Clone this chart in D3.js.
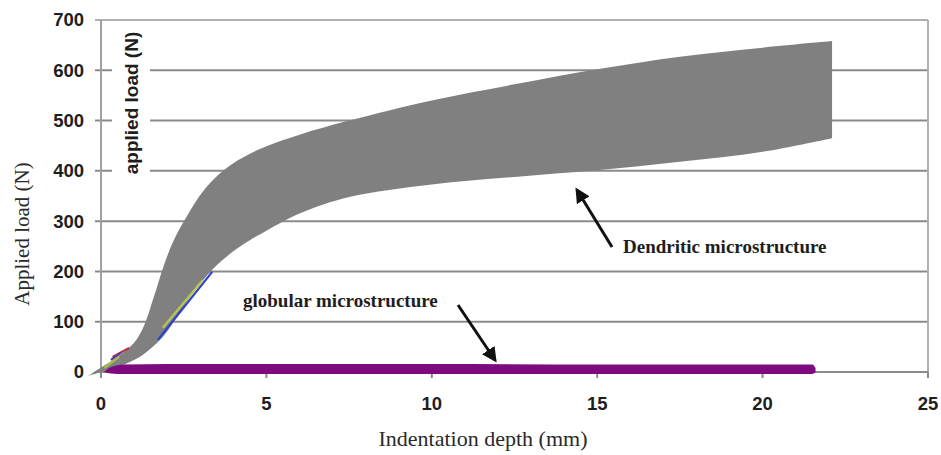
<!DOCTYPE html>
<html><head><meta charset="utf-8">
<script src="https://cdn.jsdelivr.net/npm/d3@7"></script>
<style>body{margin:0;background:#fff}svg{display:block}</style>
</head><body>
<svg id="c" width="941" height="455"></svg>
<script>
// ---- data ----
const xTicks = [0, 5, 10, 15, 20, 25];
const yTicks = [0, 100, 200, 300, 400, 500, 600, 700];
// dendritic microstructure band (grey envelope)
const dendX     = [-0.4, 0, 0.5, 1.0, 1.3, 1.6, 1.9, 2.2, 2.6, 3.0, 3.4, 4.0, 4.5, 5.0, 6.0, 7.5, 10, 12.5, 15, 17.5, 20, 22.1];
const dendUpper = [-8, 9, 30, 58, 92, 150, 212, 262, 310, 352, 383, 415, 434, 449, 472, 500, 540, 572, 602, 627, 645, 658];
const dendLower = [-8, 0, 10, 24, 36, 52, 72, 100, 140, 176, 206, 240, 262, 281, 315, 348, 373, 388, 401, 418, 438, 465];
// globular microstructure band (purple)
const globX     = [0.1, 0.3, 0.7, 2, 5, 10, 15, 20, 21.5, 21.6];
const globUpper = [1, 10, 15, 16, 16, 16, 15, 15, 15, 8];
const globLower = [0, -3, -4, -4, -4, -4, -4, -4, -4, 0];
// small individual test curves visible on the band
const blueX = [1.72, 3.36], blueY = [64, 199];
const ygX = [1.87, 3.08], ygY = [88, 183];
const greenX = [0.1, 0.55], greenY = [8, 30];
const redX = [0.35, 0.85], redY = [30, 48];
const violetX = [0.3, 0.6], violetY = [24, 38];

const svg = d3.select('#c');
const x = d3.scaleLinear().domain([0, 25]).range([101, 928]);
const y = d3.scaleLinear().domain([0, 700]).range([372, 20]);

// gridlines (including top border)
svg.append('g').selectAll('line').data(yTicks.filter(d => d > 0)).join('line')
  .attr('x1', 95).attr('x2', x(25)).attr('y1', d => y(d)).attr('y2', d => y(d))
  .attr('stroke', d => d === 700 ? '#b0b0b0' : '#8a8a8a').attr('stroke-width', 2);
svg.append('line').attr('x1', 95).attr('x2', x(0)).attr('y1', y(0)).attr('y2', y(0)).attr('stroke', '#8a8a8a').attr('stroke-width', 2);
svg.append('line').attr('x1', x(25)).attr('x2', x(25)).attr('y1', y(700)).attr('y2', y(0) + 6).attr('stroke', '#b0b0b0').attr('stroke-width', 2);
svg.append('line').attr('x1', x(0)).attr('x2', x(0)).attr('y1', y(700)).attr('y2', y(0)).attr('stroke', '#a0a0a0').attr('stroke-width', 2);
svg.append('line').attr('x1', x(0)).attr('x2', x(25)).attr('y1', y(0)).attr('y2', y(0)).attr('stroke', '#8a8a8a').attr('stroke-width', 2);
svg.append('g').selectAll('line').data(xTicks).join('line')
  .attr('x1', d => x(d)).attr('x2', d => x(d)).attr('y1', y(0)).attr('y2', y(0) + 6)
  .attr('stroke', '#8a8a8a').attr('stroke-width', 2);

// inner label "applied load (N)" with white background
svg.append('rect').attr('x', 112).attr('y', 27).attr('width', 38).attr('height', 152).attr('fill', '#fff');
svg.append('text').attr('transform', 'translate(138,103) rotate(-90)')
  .attr('text-anchor', 'middle').attr('font-family', 'Liberation Sans, Arial, sans-serif')
  .attr('font-weight', 'bold').attr('font-size', 19).attr('fill', '#1e1e1e').text('applied load (N)');

// dendritic band
const curve = d3.curveCatmullRom.alpha(0.5);
svg.append('path')
  .attr('d', d3.area().curve(curve).x((d, i) => x(dendX[i])).y0((d, i) => y(dendLower[i])).y1((d, i) => y(dendUpper[i]))(dendX))
  .attr('fill', '#808080');

// small test curves
const seg = (xs, ys, col) => svg.append('path')
  .attr('d', d3.line().x((d, i) => x(xs[i])).y((d, i) => y(ys[i]))(xs))
  .attr('stroke', col).attr('stroke-width', 2.2).attr('fill', 'none');
seg(blueX, blueY, '#2b3fd0');
seg(ygX, ygY, '#b8c84a');
seg(greenX, greenY, '#a8c040');
seg(redX, redY, '#b0304a');
seg(violetX, violetY, '#5a3aa0');

// globular band
svg.append('path')
  .attr('d', d3.area().curve(d3.curveMonotoneX).x((d, i) => x(globX[i])).y0((d, i) => y(globLower[i])).y1((d, i) => y(globUpper[i]))(globX))
  .attr('fill', '#7e0a80');

// tick labels
svg.append('g').selectAll('text').data(yTicks).join('text')
  .attr('x', 84).attr('y', d => y(d)).attr('dy', '0.35em').attr('text-anchor', 'end')
  .attr('font-family', 'Liberation Sans, Arial, sans-serif').attr('font-weight', 'bold')
  .attr('font-size', 18.5).attr('fill', '#1e1e1e').text(d => d);
svg.append('g').selectAll('text').data(xTicks).join('text')
  .attr('x', d => x(d)).attr('y', 404).attr('dy', '0.35em').attr('text-anchor', 'middle')
  .attr('font-family', 'Liberation Sans, Arial, sans-serif').attr('font-weight', 'bold')
  .attr('font-size', 18.5).attr('fill', '#1e1e1e').text(d => d);

// axis titles
svg.append('text').attr('transform', 'translate(29,234) rotate(-90)').attr('text-anchor', 'middle')
  .attr('font-family', 'Liberation Serif, Times New Roman, serif').attr('font-size', 21)
  .attr('fill', '#2a2a2a').text('Applied load (N)');
svg.append('text').attr('x', 483).attr('y', 446).attr('text-anchor', 'middle')
  .attr('font-family', 'Liberation Serif, Times New Roman, serif').attr('font-size', 22)
  .attr('fill', '#2a2a2a').text('Indentation depth (mm)');

// annotations
svg.append('defs').append('marker').attr('id', 'ah').attr('viewBox', '0 0 10 10')
  .attr('refX', 8).attr('refY', 5).attr('markerWidth', 5).attr('markerHeight', 5)
  .attr('orient', 'auto').append('path').attr('d', 'M0,0L10,5L0,10z').attr('fill', '#111');
svg.append('text').attr('x', 623).attr('y', 253)
  .attr('font-family', 'Liberation Serif, Times New Roman, serif').attr('font-weight', 'bold')
  .attr('font-size', 19).attr('fill', '#1e1e1e').text('Dendritic microstructure');
svg.append('line').attr('x1', 612).attr('y1', 247).attr('x2', 577).attr('y2', 190)
  .attr('stroke', '#111').attr('stroke-width', 3).attr('marker-end', 'url(#ah)');
svg.append('text').attr('x', 243).attr('y', 307)
  .attr('font-family', 'Liberation Serif, Times New Roman, serif').attr('font-weight', 'bold')
  .attr('font-size', 19).attr('fill', '#1e1e1e').text('globular microstructure');
svg.append('line').attr('x1', 458).attr('y1', 305).attr('x2', 495).attr('y2', 360)
  .attr('stroke', '#111').attr('stroke-width', 3).attr('marker-end', 'url(#ah)');
</script>
</body></html>
